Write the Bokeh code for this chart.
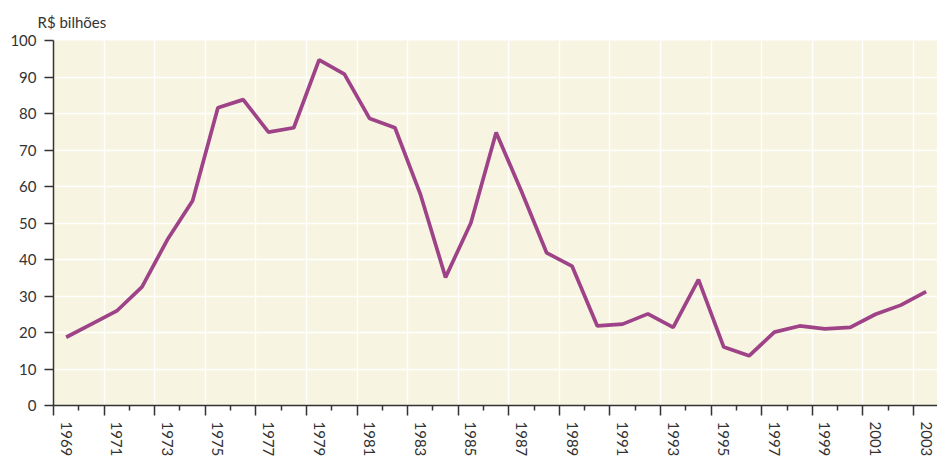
from bokeh.plotting import figure
from bokeh.models import Range1d, FixedTicker, LinearAxis
from bokeh.embed import file_html
from bokeh.resources import INLINE

years = list(range(1969, 2004))
values = [18.7, 22.3, 25.9, 32.5, 45.4, 56.1, 81.6, 83.8, 74.9, 76.1,
          94.7, 90.8, 78.6, 76.1, 58.0, 35.1, 50.0, 74.8, 58.7, 41.8,
          38.2, 21.8, 22.3, 25.1, 21.4, 34.5, 16.0, 13.6, 20.1, 21.8,
          21.0, 21.4, 25.0, 27.5, 31.2]
label_years = years[::2]
y_ticks = list(range(0, 101, 10))
y_title = "R$ bilhões"

FONT = "Lato"
TXT = "#333333"
AX = "#333333"

edges_major = [y - 0.5 for y in label_years]
edges_minor = [y + 0.5 for y in label_years if y + 0.5 < years[-1]]

p = figure(width=937, height=459,
           x_range=Range1d(years[0] - 0.5, 2003.45), y_range=Range1d(0, 100),
           output_backend="svg", toolbar_location=None,
           min_border_left=53, min_border_right=0, min_border_top=40, min_border_bottom=0,
           background_fill_color="#F7F4E1", border_fill_color="white",
           outline_line_color=None)

# tick-mark axis (band edges)
ax = p.xaxis[0]
ax.ticker = FixedTicker(ticks=edges_major, minor_ticks=edges_minor)
ax.major_label_overrides = {t: "" for t in edges_major}
ax.major_label_text_font_size = "0px"
ax.major_label_standoff = 0
ax.major_tick_out = 10
ax.major_tick_in = 0
ax.minor_tick_out = 5
ax.minor_tick_in = 0
ax.axis_line_color = AX
ax.axis_line_width = 1.5
ax.major_tick_line_color = AX
ax.major_tick_line_width = 1.5
ax.minor_tick_line_color = AX
ax.minor_tick_line_width = 1.5

# label axis (year labels centred in their band)
lab = LinearAxis(ticker=FixedTicker(ticks=label_years, minor_ticks=[]),
                 major_tick_out=0, major_tick_in=0, minor_tick_out=0, minor_tick_in=0,
                 major_tick_line_color=None, minor_tick_line_color=None,
                 axis_line_color=None, major_label_orientation="vertical",
                 major_label_standoff=6, major_label_text_font_size="15px",
                 major_label_text_font=FONT, major_label_text_color=TXT)
p.add_layout(lab, "below")

ya = p.yaxis[0]
ya.ticker = FixedTicker(ticks=y_ticks, minor_ticks=[])
ya.major_tick_out = 9
ya.major_tick_in = 0
ya.minor_tick_out = 0
ya.minor_tick_in = 0
ya.axis_line_color = AX
ya.axis_line_width = 1.5
ya.major_tick_line_color = AX
ya.major_tick_line_width = 1.5
ya.major_label_standoff = 8
ya.major_label_text_font = FONT
ya.major_label_text_font_size = "15px"
ya.major_label_text_color = TXT

p.xgrid.ticker = FixedTicker(ticks=edges_major, minor_ticks=[])
p.xgrid.grid_line_color = "white"
p.xgrid.grid_line_width = 1.5
p.ygrid.grid_line_color = "white"
p.ygrid.grid_line_width = 1.5

p.title.text = y_title
p.title.align = "left"
p.title.offset = -16
p.title.text_font = FONT
p.title.text_font_size = "15px"
p.title.text_font_style = "normal"
p.title.text_color = TXT
p.title.standoff = 19

p.line(years, values, line_color="#9E4387", line_width=3.7)

open("out.html", "w").write(file_html(p, INLINE))
